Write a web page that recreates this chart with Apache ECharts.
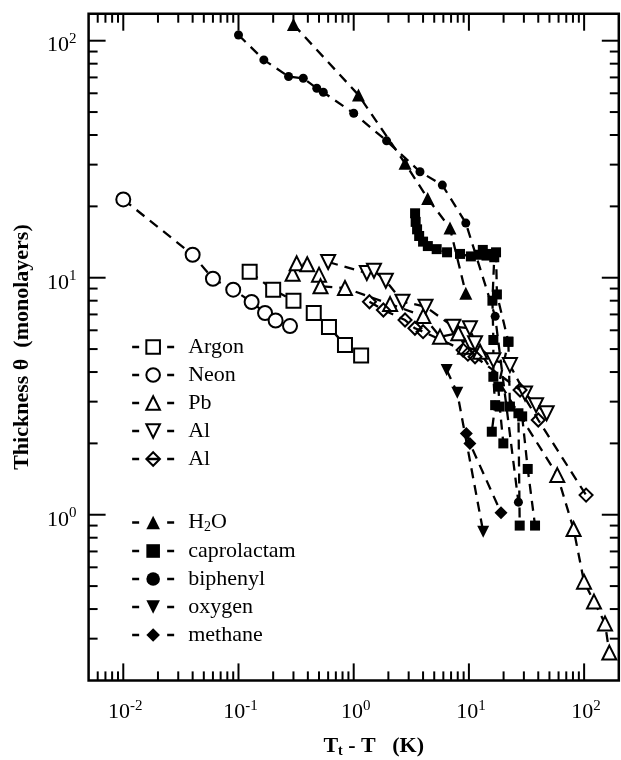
<!DOCTYPE html>
<html>
<head>
<meta charset="utf-8">
<script src="https://cdn.jsdelivr.net/npm/echarts@6/dist/echarts.min.js"></script>
<style>
html, body { margin: 0; padding: 0; background: #fff; }
#main { width: 621px; height: 760px; }
</style>
</head>
<body>
<div id="main"></div>
<script>
// values: [Tt - T (K), thickness (monolayers)]
const argon = [[0.125, 10.6], [0.2, 8.9], [0.3, 8.0], [0.45, 7.1], [0.61, 6.2], [0.84, 5.2], [1.16, 4.7]];
const neon = [[0.01, 21.4], [0.04, 12.5], [0.06, 9.9], [0.09, 8.9], [0.13, 7.9], [0.17, 7.1], [0.21, 6.6], [0.28, 6.25]];
const pb = [[0.295, 10.4], [0.32, 11.5], [0.395, 11.4], [0.5, 10.3], [0.515, 9.2], [0.84, 9.05], [2.07, 7.74],
  [4.02, 6.89], [5.61, 5.64], [8.1, 5.83], [9.25, 5.12], [12.5, 4.87], [58.5, 1.47], [81, 0.87],
  [99.8, 0.522], [121.8, 0.43], [151.8, 0.348], [165.5, 0.262]];
const alTri = [[0.6, 11.65], [1.3, 10.47], [1.5, 10.7], [1.9, 9.71], [2.65, 7.92], [4.2, 7.55], [7.32, 6.21],
  [10.2, 6.12], [11.3, 5.29], [16.3, 4.49], [22.7, 4.28], [30.7, 3.25], [38.3, 2.9], [47.3, 2.68]];
const alDia = [[1.37, 7.92], [1.81, 7.31], [2.79, 6.63], [3.4, 6.12], [4.0, 5.92], [8.9, 4.95], [9.8, 4.76],
  [11.3, 4.64], [27.8, 3.36], [40, 2.51], [104, 1.21]];
const h2o = [[0.3, 117], [1.1, 59], [2.79, 30.4], [4.39, 21.6], [6.85, 16.2], [9.4, 8.6]];
const biphenyl = [[0.1, 105.7], [0.166, 83], [0.272, 70.6], [0.365, 69.4], [0.478, 63], [0.545, 60.6],
  [1.0, 49.4], [1.93, 37.8], [3.76, 28], [5.88, 24.6], [9.4, 17], [16.9, 6.87], [26.9, 1.13]];
const caproA = [[3.41, 18.7], [3.45, 17.2], [3.55, 16], [3.7, 15], [4.0, 14.2], [4.4, 13.6], [5.25, 13.2],
  [6.46, 12.8], [8.37, 12.6], [10.4, 12.3], [12.2, 12.5], [13.2, 13.1], [14.2, 12.4], [15.3, 12.6],
  [16.6, 12.2], [16.0, 8.0], [16.3, 5.46], [16.3, 3.82], [16.9, 2.9], [15.8, 2.24]];
const caproB = [[17.2, 12.8], [17.5, 8.5], [22, 5.37], [18, 3.47], [18.5, 2.86], [19.9, 2.0]];
const caproC = [[22, 5.37], [22.7, 2.86], [26.9, 2.68], [27.6, 0.9]];
const caproD = [[29, 2.6], [32.4, 1.56], [37.5, 0.9]];
const oxygen = [[6.41, 4.08], [7.93, 3.27], [13.3, 0.848]];
const methane = [[9.5, 2.2], [10.2, 2.0], [19.0, 1.02]];

// axis range and tick labels
const X_MIN = 0.005, X_MAX = 200;
const Y_MIN = 0.2, Y_MAX = 130;
const xMajor = [0.01, 0.1, 1, 10, 100];
const xMajorExp = ['-2', '-1', '0', '1', '2'];
const yMajor = [1, 10, 100];
const yMajorExp = ['0', '1', '2'];

function minorTicks(lo, hi) {
  const out = [];
  for (let d = 0.001; d <= 1000; d *= 10) {
    for (let m = 2; m <= 9; m++) {
      const v = m * d;
      if (v > lo && v < hi) out.push(v);
    }
  }
  return out;
}
const xTicks = xMajor.map(v => [v, Y_MIN, 1]).concat(minorTicks(X_MIN, X_MAX).map(v => [v, Y_MIN, 0]));
const yTicks = yMajor.map(v => [X_MIN, v, 1]).concat(minorTicks(Y_MIN, Y_MAX).map(v => [X_MIN, v, 0]));

const FONT = 'Liberation Serif, Times New Roman, serif';
const DASH = [10, 7];

function lineSeries(name, data, symbol, size, filled, rotate) {
  return {
    type: 'line',
    name: name,
    data: data,
    symbol: symbol,
    symbolSize: size,
    symbolRotate: rotate || 0,
    showAllSymbol: true,
    animation: false,
    silent: true,
    emphasis: { disabled: true },
    lineStyle: { color: '#000', width: 2.3, type: DASH },
    itemStyle: {
      color: filled ? '#000' : '#fff',
      borderColor: '#000',
      borderWidth: filled ? 0 : 2
    }
  };
}

const labelRich = {
  b: { fontFamily: FONT, fontSize: 22, lineHeight: 28, fill: '#000' },
  s: { fontFamily: FONT, fontSize: 15, lineHeight: 15, padding: [0, 0, 13, 0], fill: '#000' }
};

const legendText = {
  fontFamily: FONT, fontSize: 22, lineHeight: 22, color: '#000',
  rich: {
    t: { fontFamily: FONT, fontSize: 22, lineHeight: 22, color: '#000', padding: [0, 0, 0, 9] },
    u: { fontFamily: FONT, fontSize: 22, lineHeight: 22, color: '#000' },
    sub: { fontFamily: FONT, fontSize: 14, lineHeight: 14, color: '#000', padding: [9, 0, 0, 0] }
  }
};
function legendFormatter(name) {
  if (name === 'H2O') return '{t|H}{sub|2}{u|O}';
  return '{t|' + name.trim() + '}';
}
const legendBase = {
  orient: 'vertical',
  left: 131,
  itemWidth: 42,
  itemHeight: 17,
  itemGap: 6,
  selectedMode: false,
  padding: 0,
  textStyle: legendText,
  formatter: legendFormatter,
  lineStyle: { color: '#000', width: 2.3, type: [7, 28] },
  inactiveColor: '#000'
};

const chart = echarts.init(document.getElementById('main'), null, { renderer: 'canvas' });

chart.setOption({
  animation: false,
  backgroundColor: '#fff',
  grid: {
    left: 88.6, right: 2.2, top: 13.7, bottom: 79.6,
    show: true, borderColor: '#000', borderWidth: 2.5,
    outerBoundsMode: 'none'
  },
  legend: [
    Object.assign({}, legendBase, {
      top: 336,
      data: [
        { name: 'Argon' }, { name: 'Neon' }, { name: 'Pb' }, { name: 'Al' },
        { name: 'Al ', lineStyle: { color: '#000', width: 2.3, type: [7, 8, 12, 8, 7] } }
      ]
    }),
    Object.assign({}, legendBase, {
      top: 511,
      data: [{ name: 'H2O' }, { name: 'caprolactam' }, { name: 'biphenyl' }, { name: 'oxygen' }, { name: 'methane' }]
    })
  ],
  xAxis: {
    type: 'log', logBase: 10, min: X_MIN, max: X_MAX,
    axisLine: { show: false }, axisTick: { show: false }, axisLabel: { show: false },
    splitLine: { show: false }, minorTick: { show: false },
    name: '{b|T}{sub|t}{b| - T   (K)}',
    nameLocation: 'middle', nameGap: 54, nameMoveOverlap: false,
    nameTextStyle: {
      fontFamily: FONT, fontWeight: 'bold', fontSize: 22, color: '#000', padding: [0, 0, 0, 40],
      rich: {
        b: { fontFamily: FONT, fontWeight: 'bold', fontSize: 22, lineHeight: 24, color: '#000' },
        sub: { fontFamily: FONT, fontWeight: 'bold', fontSize: 14, lineHeight: 14, color: '#000', padding: [10, 0, 0, 0] }
      }
    }
  },
  yAxis: {
    type: 'log', logBase: 10, min: Y_MIN, max: Y_MAX,
    axisLine: { show: false }, axisTick: { show: false }, axisLabel: { show: false },
    splitLine: { show: false }, minorTick: { show: false },
    name: 'Thickness θ  (monolayers)',
    nameLocation: 'middle', nameGap: 55, nameMoveOverlap: false,
    nameTextStyle: { fontFamily: FONT, fontWeight: 'bold', fontSize: 22, color: '#000' }
  },
  series: [
    lineSeries('Argon', argon, 'rect', 14, false),
    lineSeries('Neon', neon, 'circle', 14, false),
    lineSeries('Pb', pb, 'triangle', 14, false),
    lineSeries('Al', alTri, 'triangle', 14, false, 180),
    Object.assign(lineSeries('Al ', alDia, 'diamond', 13, false), {
      itemStyle: { color: 'rgba(0,0,0,0)', borderColor: '#000', borderWidth: 2 }
    }),
    lineSeries('H2O', h2o, 'triangle', 13, true),
    lineSeries('caprolactam', caproA, 'rect', 10, true),
    lineSeries('caprolactam', caproB, 'rect', 10, true),
    lineSeries('caprolactam', caproC, 'rect', 10, true),
    lineSeries('caprolactam', caproD, 'rect', 10, true),
    lineSeries('biphenyl', biphenyl, 'circle', 9, true),
    lineSeries('oxygen', oxygen, 'triangle', 12, true, 180),
    lineSeries('methane', methane, 'diamond', 13, true),
    {
      // log ticks on bottom and top edges, plus bottom labels
      type: 'custom', name: 'xticks', silent: true, animation: false, z: 10,
      data: xTicks,
      renderItem: function (params, api) {
        const v = api.value(0);
        const major = api.value(2) === 1;
        const b = api.coord([v, Y_MIN]);
        const t = api.coord([v, Y_MAX]);
        const len = major ? 17 : 9;
        const children = [
          { type: 'line', shape: { x1: b[0], y1: b[1], x2: b[0], y2: b[1] - len }, style: { stroke: '#000', lineWidth: 2 } },
          { type: 'line', shape: { x1: t[0], y1: t[1], x2: t[0], y2: t[1] + len }, style: { stroke: '#000', lineWidth: 2 } }
        ];
        if (major) {
          const exp = xMajorExp[xMajor.indexOf(v)];
          children.push({
            type: 'text', x: b[0] + 2, y: b[1] + 32,
            style: { text: '{b|10}{s|' + exp + '}', rich: labelRich, align: 'center', verticalAlign: 'middle' }
          });
        }
        return { type: 'group', children: children };
      }
    },
    {
      // log ticks on left and right edges, plus left labels
      type: 'custom', name: 'yticks', silent: true, animation: false, z: 10,
      data: yTicks,
      renderItem: function (params, api) {
        const v = api.value(1);
        const major = api.value(2) === 1;
        const l = api.coord([X_MIN, v]);
        const r = api.coord([X_MAX, v]);
        const len = major ? 17 : 9;
        const children = [
          { type: 'line', shape: { x1: l[0], y1: l[1], x2: l[0] + len, y2: l[1] }, style: { stroke: '#000', lineWidth: 2 } },
          { type: 'line', shape: { x1: r[0], y1: r[1], x2: r[0] - len, y2: r[1] }, style: { stroke: '#000', lineWidth: 2 } }
        ];
        if (major) {
          const exp = yMajorExp[yMajor.indexOf(v)];
          children.push({
            type: 'text', x: l[0] - 12, y: l[1] + 5,
            style: { text: '{b|10}{s|' + exp + '}', rich: labelRich, align: 'right', verticalAlign: 'middle' }
          });
        }
        return { type: 'group', children: children };
      }
    }
  ]
});
</script>
</body>
</html>
